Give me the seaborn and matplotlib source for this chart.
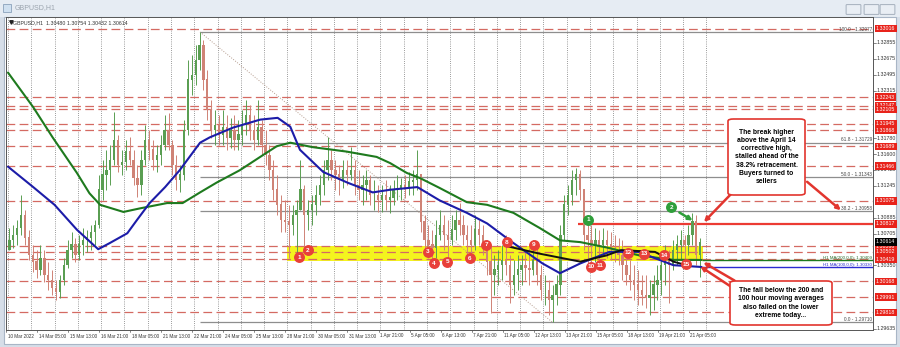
import numpy as np
import matplotlib
matplotlib.use("Agg")
import matplotlib.pyplot as plt
import seaborn as sns
from matplotlib.patches import Rectangle, FancyBboxPatch
from matplotlib.transforms import blended_transform_factory

sns.set_theme(style="white")
plt.rcParams['font.family'] = ['Liberation Sans', 'DejaVu Sans']

# ---------------- data (GBPUSD H1, 4-hour slots) ----------------
open0 = 1.3052
high = [1.3077,1.3080,1.3086,1.3114,1.3097,1.3075,1.3058,1.3052,1.3058,1.3052,
        1.3039,1.3030,1.3018,1.3024,1.3043,1.3063,1.3072,1.3066,1.3069,1.3077,
        1.3075,1.3080,1.3086,1.3137,1.3153,1.3165,1.3170,1.3208,1.3182,1.3165,
        1.3176,1.3179,1.3165,1.3148,1.3165,1.3193,1.3187,1.3176,1.3170,1.3182,
        1.3204,1.3206,1.3176,1.3159,1.3148,1.3199,1.3266,1.3272,1.3283,1.3298,
        1.3289,1.3255,1.3221,1.3210,1.3204,1.3210,1.3204,1.3201,1.3204,1.3199,
        1.3210,1.3221,1.3215,1.3204,1.3221,1.3199,1.3187,1.3170,1.3153,1.3137,
        1.3114,1.3108,1.3103,1.3103,1.3108,1.3153,1.3125,1.3108,1.3114,1.3125,
        1.3137,1.3153,1.3179,1.3165,1.3153,1.3148,1.3153,1.3153,1.3168,1.3153,
        1.3142,1.3137,1.3142,1.3137,1.3131,1.3125,1.3125,1.3131,1.3125,1.3131,
        1.3137,1.3133,1.3137,1.3140,1.3142,1.3165,1.3137,1.3091,1.3080,1.3075,
        1.3086,1.3097,1.3091,1.3086,1.3091,1.3097,1.3105,1.3091,1.3080,1.3080,
        1.3091,1.3086,1.3080,1.3063,1.3058,1.3046,1.3052,1.3058,1.3069,1.3046,
        1.3041,1.3046,1.3046,1.3052,1.3054,1.3063,1.3058,1.3035,1.3024,1.3018,
        1.3013,1.3024,1.3080,1.3114,1.3125,1.3142,1.3144,1.3142,1.3114,1.3081,
        1.3080,1.3077,1.3075,1.3077,1.3075,1.3072,1.3069,1.3066,1.3063,1.3052,
        1.3041,1.3035,1.3030,1.3024,1.3024,1.3018,1.3024,1.3035,1.3046,1.3058,
        1.3052,1.3063,1.3069,1.3075,1.3069,1.3080,1.3094,1.3091,1.3066]
low = [1.3052,1.3054,1.3058,1.3069,1.3058,1.3041,1.3027,1.3021,1.3024,1.3016,
       1.3007,1.3001,1.2996,1.2998,1.3013,1.3032,1.3043,1.3039,1.3041,1.3046,
       1.3050,1.3052,1.3058,1.3077,1.3108,1.3120,1.3125,1.3148,1.3140,1.3137,
       1.3142,1.3148,1.3125,1.3112,1.3114,1.3148,1.3153,1.3142,1.3140,1.3148,
       1.3165,1.3165,1.3137,1.3120,1.3117,1.3131,1.3182,1.3227,1.3238,1.3255,
       1.3232,1.3199,1.3178,1.3170,1.3170,1.3170,1.3165,1.3167,1.3165,1.3165,
       1.3170,1.3182,1.3176,1.3165,1.3170,1.3159,1.3148,1.3131,1.3108,1.3091,
       1.3072,1.3072,1.3043,1.3069,1.3041,1.3097,1.3050,1.3075,1.3080,1.3091,
       1.3103,1.3114,1.3131,1.3131,1.3120,1.3114,1.3122,1.3125,1.3131,1.3114,
       1.3108,1.3103,1.3108,1.3103,1.3097,1.3095,1.3095,1.3097,1.3094,1.3103,
       1.3108,1.3108,1.3111,1.3114,1.3114,1.3120,1.3072,1.3052,1.3043,1.3039,
       1.3043,1.3063,1.3052,1.3039,1.3058,1.3063,1.3069,1.3058,1.3046,1.3043,
       1.3052,1.3058,1.3046,1.3024,1.2981,1.3001,1.3013,1.3018,1.3024,1.2992,
       1.3001,1.3007,1.3013,1.3018,1.3013,1.3024,1.3013,1.2996,1.2990,1.2979,
       1.2971,1.2990,1.3001,1.3063,1.3091,1.3103,1.3114,1.3108,1.3052,1.3035,
       1.3039,1.3039,1.3041,1.3046,1.3043,1.3041,1.3039,1.3035,1.3018,1.3013,
       1.3007,1.2996,1.2990,1.2990,1.2987,1.2979,1.2984,1.2996,1.3001,1.3013,
       1.2992,1.3030,1.3035,1.3041,1.3035,1.3046,1.3058,1.3035,1.3022]
close = [1.3063,1.3069,1.3077,1.3091,1.3066,1.3046,1.3039,1.3030,1.3043,1.3024,
         1.3018,1.3009,1.3005,1.3018,1.3035,1.3052,1.3058,1.3046,1.3058,1.3063,
         1.3066,1.3072,1.3080,1.3120,1.3137,1.3142,1.3153,1.3176,1.3148,1.3151,
         1.3163,1.3153,1.3133,1.3125,1.3153,1.3176,1.3165,1.3153,1.3159,1.3170,
         1.3187,1.3170,1.3148,1.3131,1.3137,1.3187,1.3244,1.3249,1.3266,1.3283,
         1.3244,1.3210,1.3187,1.3193,1.3182,1.3190,1.3178,1.3187,1.3176,1.3182,
         1.3193,1.3204,1.3187,1.3176,1.3190,1.3170,1.3159,1.3142,1.3120,1.3103,
         1.3086,1.3084,1.3080,1.3091,1.3097,1.3120,1.3091,1.3097,1.3103,1.3114,
         1.3125,1.3142,1.3153,1.3142,1.3137,1.3131,1.3142,1.3137,1.3142,1.3125,
         1.3120,1.3125,1.3131,1.3114,1.3114,1.3108,1.3114,1.3108,1.3111,1.3120,
         1.3122,1.3125,1.3122,1.3129,1.3131,1.3137,1.3084,1.3063,1.3058,1.3054,
         1.3069,1.3080,1.3069,1.3063,1.3075,1.3086,1.3080,1.3069,1.3063,1.3058,
         1.3075,1.3069,1.3054,1.3039,1.3024,1.3030,1.3035,1.3041,1.3035,1.3013,
         1.3024,1.3030,1.3035,1.3032,1.3030,1.3041,1.3024,1.3007,1.3007,1.2996,
         1.3001,1.3013,1.3069,1.3103,1.3114,1.3131,1.3137,1.3120,1.3069,1.3063,
         1.3058,1.3063,1.3058,1.3063,1.3058,1.3054,1.3052,1.3046,1.3035,1.3024,
         1.3018,1.3013,1.3007,1.3001,1.2998,1.3001,1.3013,1.3018,1.3035,1.3043,
         1.3035,1.3052,1.3058,1.3063,1.3058,1.3069,1.3084,1.3046,1.3061]

# moving averages (bar index, price)
ma200_bar = [0,26,46,71,84,95,119,136,164,180,198,215,239,260,277,291,314,349,380,394,
             411,425,445,473,494,521,548,569,590,617,651,686,715]
ma200_val = [1.3252,1.3213,1.3179,1.3139,1.3116,1.3103,1.3095,1.3099,1.3105,1.3105,1.3117,
             1.3128,1.3142,1.3157,1.3169,1.3173,1.3168,1.3163,1.3157,1.3150,1.3139,1.3133,
             1.3122,1.3106,1.3103,1.3094,1.3077,1.3063,1.3061,1.3055,1.3046,1.3041,1.30409]
ma100_bar = [0,26,48,71,93,105,123,133,146,162,177,198,208,232,260,278,291,301,325,350,
             376,394,422,445,473,494,521,551,569,590,620,650,686,715]
ma100_val = [1.3146,1.3123,1.3103,1.3075,1.3053,1.3060,1.3071,1.3086,1.3105,1.3123,1.3142,
             1.3173,1.3179,1.3190,1.3199,1.3201,1.3191,1.3165,1.3140,1.3128,1.3117,1.3120,
             1.3123,1.3108,1.3094,1.3082,1.3060,1.3037,1.3026,1.3037,1.3050,1.3050,1.3035,1.3033]
black_bar = [512,548,590,617,632,667,686,703]
black_val = [1.3057,1.3048,1.3039,1.3046,1.3052,1.3050,1.3039,1.3034]

red_levels = [1.33016,1.32243,1.32147,1.32105,1.31945,1.31868,1.31689,1.31466,1.31075,
              1.30566,1.30502,1.30419,1.30168,1.29991,1.29818]
hline_solid = 1.30817
last_price = 1.30614
axis_levels = [1.32855,1.32675,1.32495,1.32315,1.31780,1.31600,1.31425,1.31245,1.30885,
               1.30705,1.30350,1.29635]
fib_hi, fib_lo = 1.32977, 1.29710
fib_pct = [100.0, 61.8, 50.0, 38.2, 0.0]
fib_bar = (198, 561)
band = (1.30400, 1.30566)
band_bar = (288, 716)
ma200_last, ma100_last = 1.30409, 1.30330

time_labels = ["10 Mar 2022","14 Mar 05:00","15 Mar 13:00","16 Mar 21:00","18 Mar 05:00",
               "21 Mar 13:00","22 Mar 21:00","24 Mar 05:00","25 Mar 13:00","28 Mar 21:00",
               "30 Mar 05:00","31 Mar 13:00","1 Apr 21:00","5 Apr 05:00","6 Apr 13:00",
               "7 Apr 21:00","11 Apr 05:00","12 Apr 13:00","13 Apr 21:00","15 Apr 05:00",
               "18 Apr 13:00","19 Apr 21:00","21 Apr 05:00"]

red_num = [str(i) for i in range(1, 16)]
red_bar = [300,309,433,439,453,476,493,514,542,601,610,639,656,676,699]
red_val = [1.3044,1.3052,1.3050,1.3037,1.3039,1.3043,1.3058,1.3061,1.3058,1.3033,1.3035,
           1.3049,1.3048,1.3046,1.3036]
green_num = ["1", "2"]
green_bar = [598, 684]
green_val = [1.3086, 1.3100]

# ---------------- layout ----------------
W, H = 900, 347
fig = plt.figure(figsize=(9, 3.47), dpi=100)
fig.patch.set_facecolor('#d6dee8')
def fx(x): return x / W
def fy(y): return 1 - y / H

fig.add_artist(Rectangle((fx(0), fy(17)), 1, 17 / H, transform=fig.transFigure,
                         fc='#e6ecf3', ec='none', zorder=0))
fig.add_artist(Rectangle((fx(4), fy(344)), 892 / W, (344 - 17) / H, transform=fig.transFigure,
                         fc='white', ec='#a9b6c6', lw=0.8, zorder=0))
fig.text(fx(15), fy(8), "GBPUSD,H1", fontsize=5, color='#9aa3ad', va='center')
fig.add_artist(Rectangle((fx(3), fy(12)), 8 / W, 8 / H, transform=fig.transFigure,
                         fc='#cfe0f0', ec='#8aa2bb', lw=0.6))
for bx in (847, 865, 881):
    fig.add_artist(FancyBboxPatch((fx(bx), fy(14)), 13 / W, 9 / H, transform=fig.transFigure,
                                  boxstyle='round,pad=0.001', fc='#e9eef4', ec='#9aa6b4', lw=0.6))

ax = fig.add_axes([fx(6), fy(330), (873 - 6) / W, (330 - 17) / H])
ax.set_facecolor('white')
x0b, x1b = -2.06, 891.75
ax.set_xlim(x0b, x1b)
ax.set_ylim(1.29620, 1.33146)
ax.set_xticks([]); ax.set_yticks([])
for s in ax.spines.values():
    s.set_color('#555555'); s.set_linewidth(0.7)

# daily separators
for b in range(0, 721, 24):
    ax.axvline(b, color='#7a7a7a', lw=0.6, ls=(0, (1, 1.6)), zorder=1)

# yellow band
ax.fill_between(band_bar, band[0], band[1], color='#f4f41e', zorder=1, lw=0)

# red dashed levels
for lv in red_levels:
    ax.axhline(lv, color='#d46a62', lw=0.9, ls=(0, (7, 3.5)), zorder=2)
ax.hlines(hline_solid, 588, x1b, color='#ec3b33', lw=1.6, zorder=3)

# fib
bt = blended_transform_factory(ax.transAxes, ax.transData)
for p in fib_pct:
    lv = fib_lo + (fib_hi - fib_lo) * p / 100
    ax.hlines(lv, fib_bar[0], x1b, color='#8e8e8e', lw=0.9, zorder=2)
    ax.text(0.9988, lv + 0.00004, f"{p:.1f} - {lv:.5f}", transform=bt,
            ha='right', va='bottom', fontsize=3.4, color='#444444', zorder=5)
ax.plot(fib_bar, [fib_hi, fib_lo], color='#b39a8c', lw=0.7, ls=(0, (1, 1.6)), zorder=2)

# candles
n = len(close)
cx = 4 * np.arange(n) + 1.5
c = np.array(close); o = np.r_[open0, c[:-1]]
hi = np.maximum(np.array(high), np.maximum(o, c))
lo = np.minimum(np.array(low), np.minimum(o, c))
up = c >= o
bull, bear = '#5a9e52', '#cf8376'
cols = np.where(up, bull, bear)
ax.vlines(cx, lo, hi, colors=cols, lw=0.7, zorder=3)
ax.bar(cx, np.abs(c - o) + 0.00004, bottom=np.minimum(o, c), width=2.4, color=cols, zorder=3, lw=0)

# moving averages via seaborn
sns.lineplot(x=ma200_bar, y=ma200_val, ax=ax, color='#1e7a1e', lw=1.5, estimator=None, sort=False, zorder=4)
sns.lineplot(x=ma100_bar, y=ma100_val, ax=ax, color='#1c1ca8', lw=1.5, estimator=None, sort=False, zorder=4)
sns.lineplot(x=black_bar, y=black_val, ax=ax, color='#111111', lw=1.4, estimator=None, sort=False, zorder=4)
ax.hlines(ma200_last, ma200_bar[-1], x1b, color='#1e7a1e', lw=1.0, zorder=4)
ax.hlines(ma100_last, ma100_bar[-1], x1b, color='#2a2ad0', lw=1.0, zorder=4)
ax.text(0.9988, ma200_last + 0.00003, f"H1 MA(200,0,0): {ma200_last:.5f}", transform=bt, ha='right',
        va='bottom', fontsize=3.2, color='#2a6a2a', zorder=5)
ax.text(0.9988, ma100_last + 0.00003, f"H1 MA(100,0,0): {ma100_last:.5f}", transform=bt, ha='right',
        va='bottom', fontsize=3.2, color='#2a2ad0', zorder=5)

# numbered circles
ax.scatter(red_bar, red_val, s=62, color='#e8403a', zorder=6, lw=0)
for t, b, v in zip(red_num, red_bar, red_val):
    ax.text(b, v, t, ha='center', va='center', color='white', fontsize=4.6, fontweight='bold', zorder=7)
ax.scatter(green_bar, green_val, s=62, color='#2f9e3a', zorder=6, lw=0)
for t, b, v in zip(green_num, green_bar, green_val):
    ax.text(b, v, t, ha='center', va='center', color='white', fontsize=4.6, fontweight='bold', zorder=7)

# header text
ax.plot([0.006], [0.985], marker='v', ms=2.5, color='#222222', transform=ax.transAxes, clip_on=False)
ax.text(0.0085, 0.988, "GBPUSD,H1  1.30480 1.30754 1.30432 1.30614", transform=ax.transAxes,
        ha='left', va='top', fontsize=3.8, color='#333333')

# right axis labels
for lv in axis_levels:
    ax.text(1 + 4 / 867, lv, f"{lv:.5f}", transform=bt, ha='left', va='center', fontsize=3.8,
            color='#333333', clip_on=False)
    ax.plot([1, 1 + 3 / 867], [lv, lv], transform=bt, color='#555555', lw=0.5, clip_on=False)
for lv in red_levels + [hline_solid]:
    ax.text(1 + 3 / 867, lv, f"{lv:.5f}", transform=bt, ha='left', va='center', fontsize=3.8,
            color='white', clip_on=False, zorder=8,
            bbox=dict(boxstyle='square,pad=0.25', fc='#e8231b', ec='none'))
ax.text(1 + 3 / 867, last_price, f"{last_price:.5f}", transform=bt, ha='left', va='center',
        fontsize=3.8, color='white', clip_on=False, zorder=8,
        bbox=dict(boxstyle='square,pad=0.25', fc='black', ec='none'))

# time labels
tb = blended_transform_factory(ax.transData, ax.transAxes)
for i, lab in enumerate(time_labels):
    b = -2.0 if i == 0 else 30 + 32 * (i - 1)
    ax.text(b + 1.5, -6 / 313, lab, transform=tb, ha='left', va='center', fontsize=3.3,
            color='#333333', clip_on=False)
    ax.plot([b, b], [0, -2 / 313], transform=tb, color='#555555', lw=0.5, clip_on=False)

# annotation boxes
red = '#e2352e'
def box(x0, y0, x1, y1, text, fs):
    fig.add_artist(FancyBboxPatch((fx(x0), fy(y1)), (x1 - x0) / W, (y1 - y0) / H,
                                  transform=fig.transFigure, boxstyle='round,pad=0,rounding_size=0.006',
                                  fc='white', ec=red, lw=1.2, zorder=10))
    fig.text(fx((x0 + x1) / 2), fy((y0 + y1) / 2), text, ha='center', va='center', fontsize=fs,
             fontweight='bold', color='black', linespacing=1.25, zorder=11)

def arrow(xa, ya, xb, yb, color):
    ax.annotate('', xy=(fx(xb), fy(yb)), xytext=(fx(xa), fy(ya)), xycoords='figure fraction',
                textcoords='figure fraction',
                arrowprops=dict(arrowstyle='-|>', color=color, lw=1.8, mutation_scale=6), zorder=9)

box(728, 119, 805, 195, "The break higher\nabove the April 14\ncorrective high,\nstalled ahead of the\n38.2% retracement.\nBuyers turned to\nsellers", 4.9)
box(730, 281, 832, 325, "The fall below the 200 and\n100 hour moving averages\nalso failed on the lower\nextreme today...", 4.9)
arrow(733, 192, 702, 224, red)
arrow(805, 180, 843, 212, red)
arrow(737, 282, 701, 261, red)
arrow(733, 288, 698, 265, red)
arrow(677, 211, 695, 222, '#2f9e3a')

fig.savefig("out.png", dpi=100, facecolor=fig.get_facecolor())
